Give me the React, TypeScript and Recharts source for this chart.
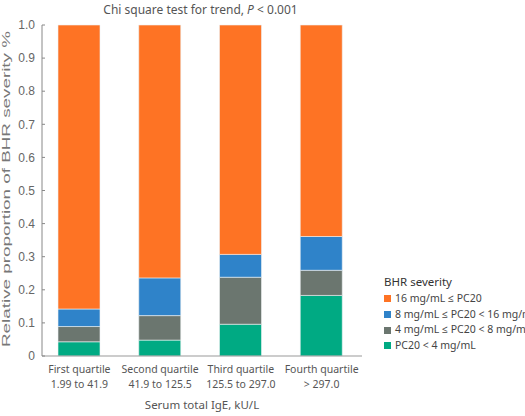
import React from 'react'
import { BarChart, Bar, XAxis, YAxis, Legend } from 'recharts'

const quartiles = ['First quartile', 'Second quartile', 'Third quartile', 'Fourth quartile']
const igeRanges = ['1.99 to 41.9', '41.9 to 125.5', '125.5 to 297.0', '> 297.0']

// share of each BHR severity group per quartile (stacked bottom to top)
const pcUnder4 = [0.043, 0.048, 0.096, 0.183]
const pc4to8 = [0.046, 0.074, 0.142, 0.076]
const pc8to16 = [0.053, 0.114, 0.069, 0.102]
const pcOver16 = [0.858, 0.764, 0.693, 0.639]

const yTicks = [0, 0.1, 0.2, 0.3, 0.4, 0.5, 0.6, 0.7, 0.8, 0.9, 1.0]

const series = [
  { key: 'over16', name: '16 mg/mL ≤ PC20', color: '#fe7324' },
  { key: 'from8', name: '8 mg/mL ≤ PC20 < 16 mg/mL', color: '#2f83c9' },
  { key: 'from4', name: '4 mg/mL ≤ PC20 < 8 mg/mL', color: '#6b766f' },
  { key: 'under4', name: 'PC20 < 4 mg/mL', color: '#00aa83' },
]

const data = quartiles.map((q, i) => ({
  quartile: q,
  range: igeRanges[i],
  under4: pcUnder4[i],
  from4: pc4to8[i],
  from8: pc8to16[i],
  over16: pcOver16[i],
}))

const FONT = '"Noto Sans", "Open Sans", sans-serif'

const QuartileTick = (props: any) => {
  const { x, y, payload } = props
  const idx = quartiles.indexOf(payload.value)
  return (
    <text x={x} y={y} textAnchor="middle" fill="#555" fontSize={10.5} fontFamily={FONT}>
      <tspan x={x} dy={9}>{payload.value}</tspan>
      <tspan x={x} dy={15}>{igeRanges[idx]}</tspan>
    </text>
  )
}

const SeverityLegend = () => (
  <div style={{ fontFamily: FONT, whiteSpace: 'nowrap', color: '#444' }}>
    <div style={{ fontSize: 11.5, lineHeight: '18px', color: '#333' }}>BHR severity</div>
    {series.map(s => (
      <div key={s.key} style={{ fontSize: 10.5, lineHeight: '15.7px', display: 'flex', alignItems: 'center' }}>
        <span style={{ display: 'inline-block', width: 7, height: 7, background: s.color, marginRight: 4 }} />
        {s.name}
      </div>
    ))}
  </div>
)

const YTitle = () => (
  <text
    x={10}
    y={189}
    transform="rotate(-90, 10, 189)"
    textAnchor="middle"
    fill="#777"
    fontSize={11.5}
    fontFamily='"Liberation Sans", Arial, sans-serif'
    textLength={316}
    lengthAdjust="spacingAndGlyphs"
  >
    Relative proportion of BHR severity %
  </text>
)

export default function App() {
  return (
    <div style={{ position: 'absolute', left: 0, top: 0, width: 525, height: 416, overflow: 'hidden', background: '#fff' }}>
      <div style={{
        position: 'absolute', left: 0, top: 1, width: 401, textAlign: 'center',
        fontFamily: FONT, fontSize: 12, color: '#555', zIndex: 2,
      }}>
        Chi square test for trend, <i>P</i> &lt; 0.001
      </div>
      <BarChart
        width={525}
        height={416}
        data={data}
        margin={{ top: 25, right: 163, bottom: 0, left: 0 }}
        barCategoryGap={0}
      >
        <XAxis
          dataKey="quartile"
          height={60}
          tickLine={false}
          axisLine={{ stroke: '#999' }}
          padding={{ left: -3, right: 0 }}
          tick={<QuartileTick />}
          interval={0}
          label={{ value: 'Serum total IgE, kU/L', position: 'insideBottom', offset: 7, fill: '#555', fontSize: 11.5, fontFamily: FONT }}
        />
        <YAxis
          width={42}
          domain={[0, 1]}
          ticks={yTicks}
          tickFormatter={(v: number) => (v === 0 ? '0' : v.toFixed(1))}
          tickSize={-3}
          tickMargin={10}
          tickLine={{ stroke: '#888' }}
          axisLine={{ stroke: '#888' }}
          tick={{ fill: '#666', fontSize: 12, fontFamily: '"Liberation Sans", Arial, sans-serif' }}
          label={<YTitle />}
        />
        <Legend
          layout="vertical"
          align="center"
          verticalAlign="middle"
          wrapperStyle={{ left: 384, top: 273, width: 'auto' }}
          content={<SeverityLegend />}
        />
        {[...series].reverse().map(s => (
          <Bar
            key={s.key}
            dataKey={s.key}
            name={s.name}
            stackId="bhr"
            fill={s.color}
            stroke="#eef2f4"
            strokeWidth={0.6}
            barSize={42}
            isAnimationActive={false}
          />
        ))}
      </BarChart>
    </div>
  )
}
